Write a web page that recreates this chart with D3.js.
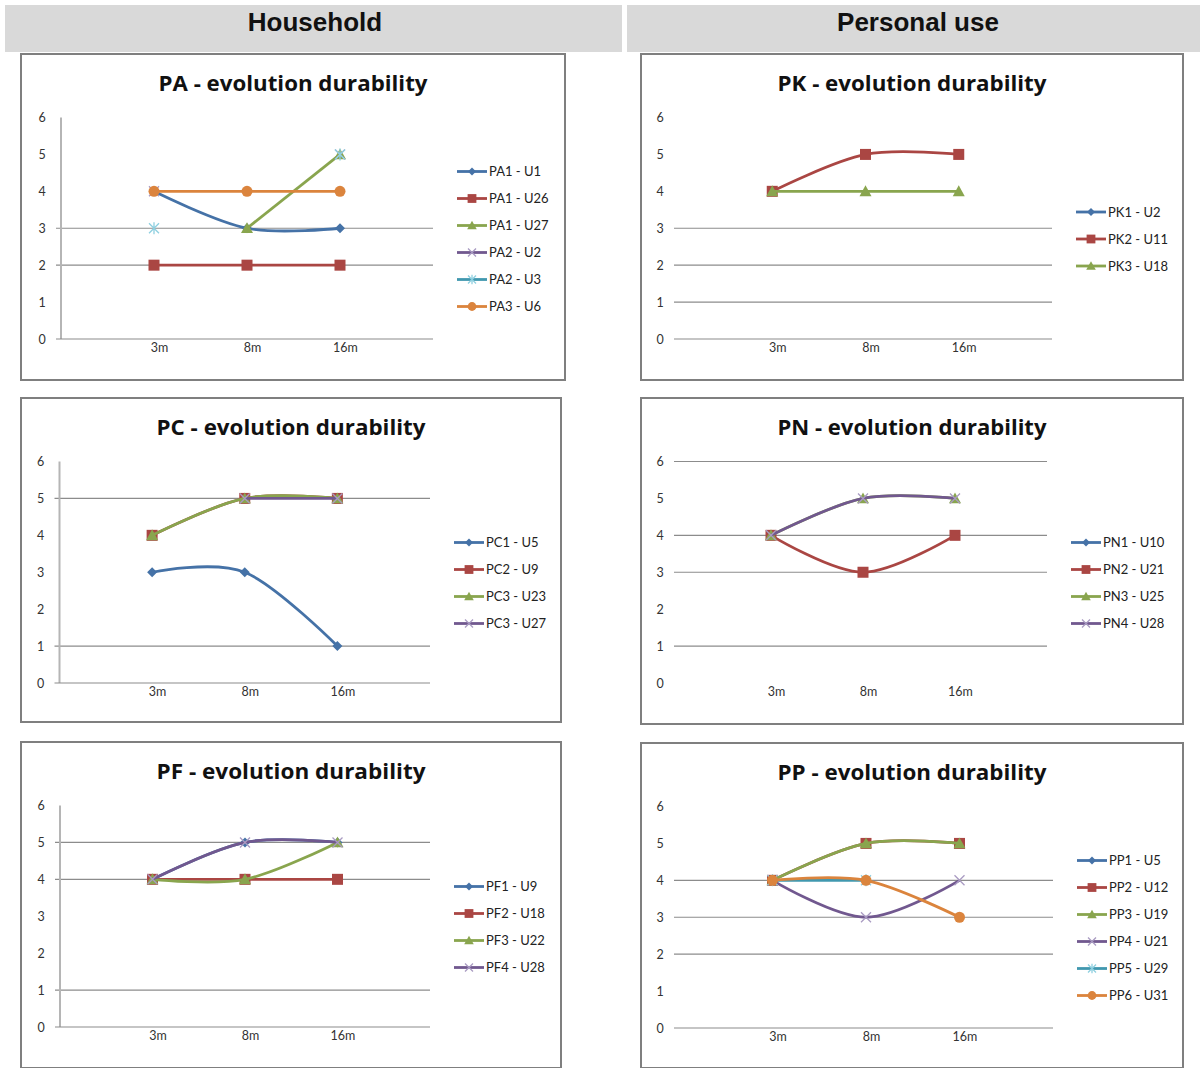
<!DOCTYPE html>
<html>
<head>
<meta charset="utf-8">
<script src="https://cdn.jsdelivr.net/npm/d3@7"></script>
<style>
  html, body { margin: 0; padding: 0; background: #ffffff; }
  svg { display: block; }
</style>
</head>
<body>
<svg id="chart" width="1202" height="1068"></svg>
<script>
// ---------- DATA ----------
const categories = ["3m", "8m", "16m"];
const yTicks = [0, 1, 2, 3, 4, 5, 6];
const sections = ["Household", "Personal use"];

const paNames  = ["PA1 - U1", "PA1 - U26", "PA1 - U27", "PA2 - U2", "PA2 - U3", "PA3 - U6"];
const paValues = [[4, 3, 3], [2, 2, 2], [null, 3, 5], [4, null, 5], [3, null, 5], [4, 4, 4]];
const paGrid   = [2, 3];

const pkNames  = ["PK1 - U2", "PK2 - U11", "PK3 - U18"];
const pkValues = [[null, null, null], [4, 5, 5], [4, 4, 4]];
const pkGrid   = [0, 1, 2, 3];

const pcNames  = ["PC1 - U5", "PC2 - U9", "PC3 - U23", "PC3 - U27"];
const pcValues = [[3, 3, 1], [4, 5, 5], [4, 5, 5], [null, 5, 5]];
const pcGrid   = [1, 5];

const pnNames  = ["PN1 - U10", "PN2 - U21", "PN3 - U25", "PN4 - U28"];
const pnValues = [[null, null, null], [4, 3, 4], [4, 5, 5], [4, 5, 5]];
const pnGrid   = [1, 3, 4, 6];

const pfNames  = ["PF1 - U9", "PF2 - U18", "PF3 - U22", "PF4 - U28"];
const pfValues = [[4, 5, 5], [4, 4, 4], [4, 4, 5], [4, 5, 5]];
const pfGrid   = [1, 4, 5];

const ppNames  = ["PP1 - U5", "PP2 - U12", "PP3 - U19", "PP4 - U21", "PP5 - U29", "PP6 - U31"];
const ppValues = [[null, null, null], [4, 5, 5], [4, 5, 5], [4, 3, 4], [4, 4, null], [4, 4, 3]];
const ppGrid   = [0, 2, 3, 4];

// ---------- STYLE / LAYOUT ----------
const seriesColors = ["#4572A7", "#AA4643", "#89A54E", "#71588F", "#4198AF", "#DB843D"];
const seriesMarkers = ["diamond", "square", "triangle", "x", "asterisk", "circle"];

const panels = [
  { title: "PA - evolution durability", names: paNames, values: paValues, grid: paGrid,
    box: [21, 54, 544, 326], axisOff: 40, rightOff: 412, leftAxis: true },
  { title: "PK - evolution durability", names: pkNames, values: pkValues, grid: pkGrid,
    box: [641, 54, 542, 326], axisOff: 38, rightOff: 411, leftAxis: false },
  { title: "PC - evolution durability", names: pcNames, values: pcValues, grid: pcGrid,
    box: [21, 398, 540, 324], axisOff: 38.5, rightOff: 409, leftAxis: true },
  { title: "PN - evolution durability", names: pnNames, values: pnValues, grid: pnGrid,
    box: [641, 398, 542, 326], axisOff: 38, rightOff: 406, leftAxis: false },
  { title: "PF - evolution durability", names: pfNames, values: pfValues, grid: pfGrid,
    box: [21, 742, 540, 326], axisOff: 39, rightOff: 409, leftAxis: true },
  { title: "PP - evolution durability", names: ppNames, values: ppValues, grid: ppGrid,
    box: [641, 743, 542, 325], axisOff: 38, rightOff: 412, leftAxis: false }
];

const svg = d3.select("#chart");

// ---------- HEADER ----------
const headerBands = [[5, 622], [627, 1200]];
sections.forEach((s, i) => {
  const [x0, x1] = headerBands[i];
  svg.append("rect").attr("x", x0).attr("y", 5).attr("width", x1 - x0).attr("height", 47)
    .attr("fill", "#d9d9d9");
  svg.append("text").attr("x", i === 0 ? 315 : 918).attr("y", 31)
    .attr("text-anchor", "middle")
    .attr("font-family", "'Liberation Sans', Arial, sans-serif")
    .attr("font-weight", "bold").attr("font-size", 26).attr("fill", "#111")
    .text(s);
});

// ---------- MARKERS ----------
function drawMarker(g, type, x, y, color, scale) {
  const s = scale || 1;
  if (type === "diamond") {
    const r = 5 * s;
    g.append("path").attr("d", `M${x},${y - r}L${x + r},${y}L${x},${y + r}L${x - r},${y}Z`)
      .attr("fill", color);
  } else if (type === "square") {
    const r = 5.5 * s;
    g.append("rect").attr("x", x - r).attr("y", y - r).attr("width", 2 * r).attr("height", 2 * r)
      .attr("fill", color);
  } else if (type === "triangle") {
    const r = 6 * s;
    g.append("path").attr("d", `M${x},${y - r}L${x + r},${y + r * 0.8}L${x - r},${y + r * 0.8}Z`)
      .attr("fill", color);
  } else if (type === "x") {
    const r = 5 * s;
    g.append("path").attr("d", `M${x - r},${y - r}L${x + r},${y + r}M${x - r},${y + r}L${x + r},${y - r}`)
      .attr("stroke", "#a99bc2").attr("stroke-width", 1.3).attr("fill", "none");
  } else if (type === "asterisk") {
    const r = 5 * s;
    g.append("path").attr("d", `M${x - r},${y - r}L${x + r},${y + r}M${x - r},${y + r}L${x + r},${y - r}M${x},${y - r * 1.2}L${x},${y + r * 1.2}`)
      .attr("stroke", "#8fd0e0").attr("stroke-width", 1.3).attr("fill", "none");
  } else if (type === "circle") {
    g.append("circle").attr("cx", x).attr("cy", y).attr("r", 5.5 * s).attr("fill", color);
  }
}

// ---------- PANELS ----------
panels.forEach(p => {
  const [bx, by, bw, bh] = p.box;
  const g = svg.append("g");

  // frame
  g.append("rect").attr("x", bx).attr("y", by).attr("width", bw).attr("height", bh)
    .attr("fill", "#ffffff").attr("stroke", "#7f7f7f").attr("stroke-width", 2);

  // title
  g.append("text").attr("x", bx + bw / 2).attr("y", by + 37)
    .attr("text-anchor", "middle")
    .attr("font-family", "'Open Sans', Lato, sans-serif")
    .attr("font-weight", "bold").attr("font-size", 21).attr("fill", "#111")
    .attr("textLength", 269).attr("lengthAdjust", "spacingAndGlyphs")
    .text(p.title);

  const axisX = bx + p.axisOff;
  const right = bx + p.rightOff;
  const y = d3.scaleLinear().domain([0, 6]).range([by + 285, by + 63.5]);
  const x = d3.scalePoint().domain(["_l", ...categories, "_r"]).range([axisX, right]);

  // gridlines
  g.selectAll(null).data(p.grid).enter().append("line")
    .attr("x1", axisX - 5).attr("x2", right)
    .attr("y1", d => y(d)).attr("y2", d => y(d))
    .attr("stroke", "#8c8c8c").attr("stroke-width", 1.2);

  if (p.leftAxis) {
    g.append("line").attr("x1", axisX).attr("x2", axisX)
      .attr("y1", y(6)).attr("y2", y(0))
      .attr("stroke", "#b5b5b5").attr("stroke-width", 2);
    g.append("line").attr("x1", axisX - 5).attr("x2", right)
      .attr("y1", y(0)).attr("y2", y(0))
      .attr("stroke", "#8c8c8c").attr("stroke-width", 1.2);
  }

  // y tick labels via axis
  const yAxis = d3.axisLeft(y).tickValues(yTicks).tickSize(0).tickPadding(0).tickFormat(d3.format("d"));
  const ya = g.append("g").attr("transform", `translate(${axisX - 14},0)`).call(yAxis);
  ya.select(".domain").remove();
  ya.selectAll("text").attr("font-family", "Lato, sans-serif").attr("font-size", 12.5)
    .attr("fill", "#333").attr("text-anchor", "middle").attr("x", -5);

  // x tick labels via axis
  const xAxis = d3.axisBottom(x).tickValues(categories).tickSize(0).tickPadding(0);
  const xa = g.append("g").attr("transform", `translate(0,${y(0) + 4})`).call(xAxis);
  xa.select(".domain").remove();
  xa.selectAll("text").attr("font-family", "Lato, sans-serif").attr("font-size", 12.5)
    .attr("fill", "#333").attr("dx", 5);

  // series
  const line = d3.line()
    .defined(d => d.v !== null)
    .x(d => x(d.c)).y(d => y(d.v))
    .curve(d3.curveCardinal.tension(0));

  p.values.forEach((vals, i) => {
    const pts = categories.map((c, j) => ({ c: c, v: vals[j] }));
    const color = seriesColors[i];
    const sg = g.append("g");
    sg.append("path").datum(pts).attr("d", line)
      .attr("fill", "none").attr("stroke", color).attr("stroke-width", 2.8)
      .attr("stroke-linejoin", "round");
    pts.filter(d => d.v !== null).forEach(d => drawMarker(sg, seriesMarkers[i], x(d.c), y(d.v), color, 1));
  });

  // legend
  const n = p.names.length;
  const lx = right + 24;
  const ly0 = by + 185 - (n - 1) * 27 / 2;
  p.names.forEach((name, i) => {
    const yy = ly0 + i * 27;
    const color = seriesColors[i];
    g.append("line").attr("x1", lx).attr("x2", lx + 30).attr("y1", yy).attr("y2", yy)
      .attr("stroke", color).attr("stroke-width", 2.8);
    drawMarker(g, seriesMarkers[i], lx + 15, yy, color, 0.8);
    g.append("text").attr("x", lx + 32).attr("y", yy + 4.5)
      .attr("font-family", "Lato, sans-serif").attr("font-size", 13).attr("fill", "#222")
      .text(name);
  });
});
</script>
</body>
</html>
